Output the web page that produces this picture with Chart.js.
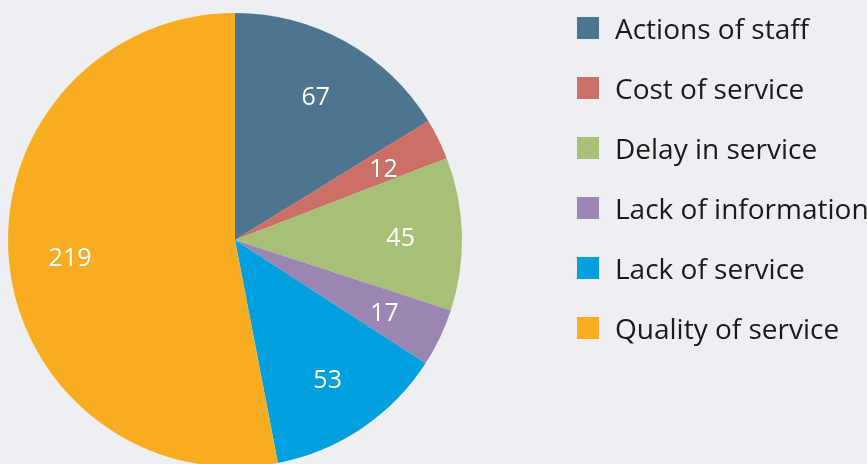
<!DOCTYPE html>
<html lang="en">
<head>
    <meta charset="UTF-8">
    <title>Complaints by type</title>
    <script src="https://cdn.jsdelivr.net/npm/chart.js"></script>
    <style>
        html, body {
            margin: 0;
            padding: 0;
            width: 867px;
            height: 464px;
            overflow: hidden;
            background-color: #eeeff3;
            font-family: 'Open Sans', sans-serif;
        }
        .wrap {
            position: relative;
            width: 867px;
            height: 480px;
        }
        .legend {
            position: absolute;
            left: 577px;
            top: 13px;
            margin: 0;
            padding: 0;
            list-style: none;
        }
        .legend li {
            display: flex;
            align-items: center;
            height: 30px;
            margin-bottom: 30px;
            font-size: 28px;
            color: #1a1a1a;
            white-space: nowrap;
        }
        .legend span {
            display: inline-block;
            width: 22px;
            height: 22px;
            margin-right: 16px;
        }
    </style>
</head>
<body>
    <div class="wrap">
        <canvas id="graficoPizza" width="867" height="480"></canvas>
        <ul class="legend" id="legenda"></ul>
    </div>

    <script>
        const categorias = ['Actions of staff', 'Cost of service', 'Delay in service', 'Lack of information', 'Lack of service', 'Quality of service'];
        const valores = [67, 12, 45, 17, 53, 219];
        const cores = ['#4e7590', '#cc6f66', '#a8bf78', '#9b85b3', '#00a0de', '#f8ac22'];

        // rotulos brancos dentro das fatias
        const rotulosPlugin = {
            id: 'rotulos',
            afterDatasetsDraw(chart) {
                const ctx = chart.ctx;
                const meta = chart.getDatasetMeta(0);
                ctx.save();
                ctx.fillStyle = '#ffffff';
                ctx.font = '25px "Open Sans"';
                ctx.textAlign = 'center';
                ctx.textBaseline = 'middle';
                meta.data.forEach((arc, i) => {
                    const meio = (arc.startAngle + arc.endAngle) / 2;
                    const r = arc.outerRadius * 0.73;
                    ctx.fillText(valores[i], arc.x + Math.cos(meio) * r, arc.y + Math.sin(meio) * r + 3);
                });
                ctx.restore();
            }
        };

        new Chart(document.getElementById('graficoPizza'), {
            type: 'pie',
            data: {
                labels: categorias,
                datasets: [{
                    data: valores,
                    backgroundColor: cores,
                    borderWidth: 0
                }]
            },
            options: {
                responsive: false,
                animation: false,
                layout: {
                    padding: { left: 8, top: 13, right: 405, bottom: 13 }
                },
                plugins: {
                    legend: { display: false },
                    tooltip: { enabled: false }
                }
            },
            plugins: [rotulosPlugin]
        });

        const legenda = document.getElementById('legenda');
        categorias.forEach((nome, i) => {
            const li = document.createElement('li');
            li.innerHTML = `<span style="background:${cores[i]}"></span>${nome}`;
            legenda.appendChild(li);
        });
    </script>
</body>
</html>
